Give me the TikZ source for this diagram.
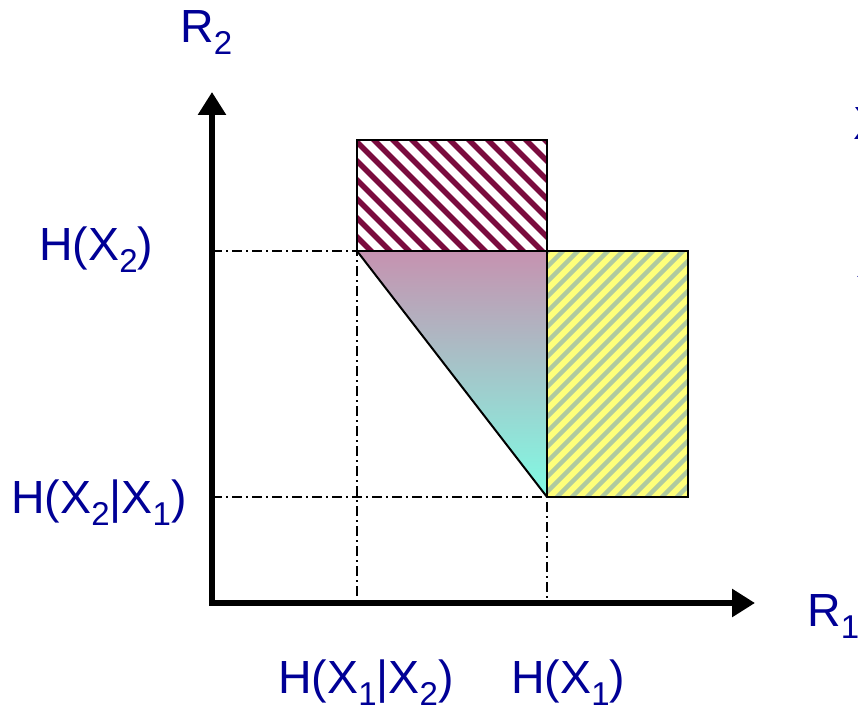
\documentclass[tikz,border=0pt]{standalone}
\usepackage{fontspec}
\setmainfont{Liberation Sans}
\usetikzlibrary{arrows.meta}
\definecolor{labelblue}{RGB}{0,0,150}
\definecolor{wine}{RGB}{122,12,62}
\definecolor{lemon}{RGB}{255,255,122}
\definecolor{sage}{RGB}{176,202,160}
\definecolor{rose}{RGB}{198,146,176}
\definecolor{aqua}{RGB}{128,252,228}
\newcommand{\lo}[1]{\raisebox{-12pt}{\fontsize{33}{33}\selectfont #1}}

\begin{document}
\begin{tikzpicture}[x=1pt,y=-1pt,>={Triangle[length=23pt,width=27pt]},
  lab/.style={text=labelblue,font=\fontsize{46.5}{54}\selectfont,inner sep=0pt,anchor=base west},
  guide/.style={line width=1.8pt,dash pattern=on 10pt off 4pt on 2pt off 4pt},
  edge/.style={line width=2pt}]
\useasboundingbox (0,0) rectangle (858,711);
\coordinate (O) at (212,603);
\coordinate (ytip) at (212,92);
\coordinate (xtip) at (755,603);
\coordinate (P) at (357,140);
\coordinate (A) at (357,251);
\coordinate (B) at (547,251);
\coordinate (C) at (547,497);
\coordinate (Q) at (688,497);
% guide lines
\draw[guide] (O |- A) -- (A) -- (A |- O);
\draw[guide] (O |- C) -- (C) -- (C |- O);
% hatched regions
\begin{scope}
\clip (P) rectangle (B);
\fill[white] (P) rectangle (B);
\foreach \s in {-130,-111,...,560} \draw[wine,line width=5.5pt] (\s,130) -- ++(130,130);
\end{scope}
\begin{scope}
\clip (B) rectangle (Q);
\fill[lemon] (B) rectangle (Q);
\foreach \s in {262,277,...,700} \draw[sage,line width=4.5pt] (\s,507) -- ++(270,-270);
\end{scope}
\shade[top color=rose,bottom color=aqua] (A) -- (B) -- (C) -- cycle;
\draw[edge] (A) -- (C);
\draw[edge] (P) rectangle (B);
\draw[edge] (B) rectangle (Q);
% axes
\draw[line width=6pt,<->] (ytip) -- (O) -- (xtip);
% labels
\node[lab] (r2) at (180,43) {R\lo{2}};
\node[lab] (r1) at (807,626) {R\lo{1}};
\node[lab] (hx2) at (39,260) {H(X\lo{2})};
\node[lab] (hx2x1) at (11,513) {H(X\lo{2}|X\lo{1})};
\node[lab] (hx1x2) at (278,693) {H(X\lo{1}|X\lo{2})};
\node[lab] (hx1) at (511,693) {H(X\lo{1})};
\node[lab] (x1) at (853,140) {X};
\node[lab] (x2) at (856,277) {X};
\end{tikzpicture}
\end{document}
